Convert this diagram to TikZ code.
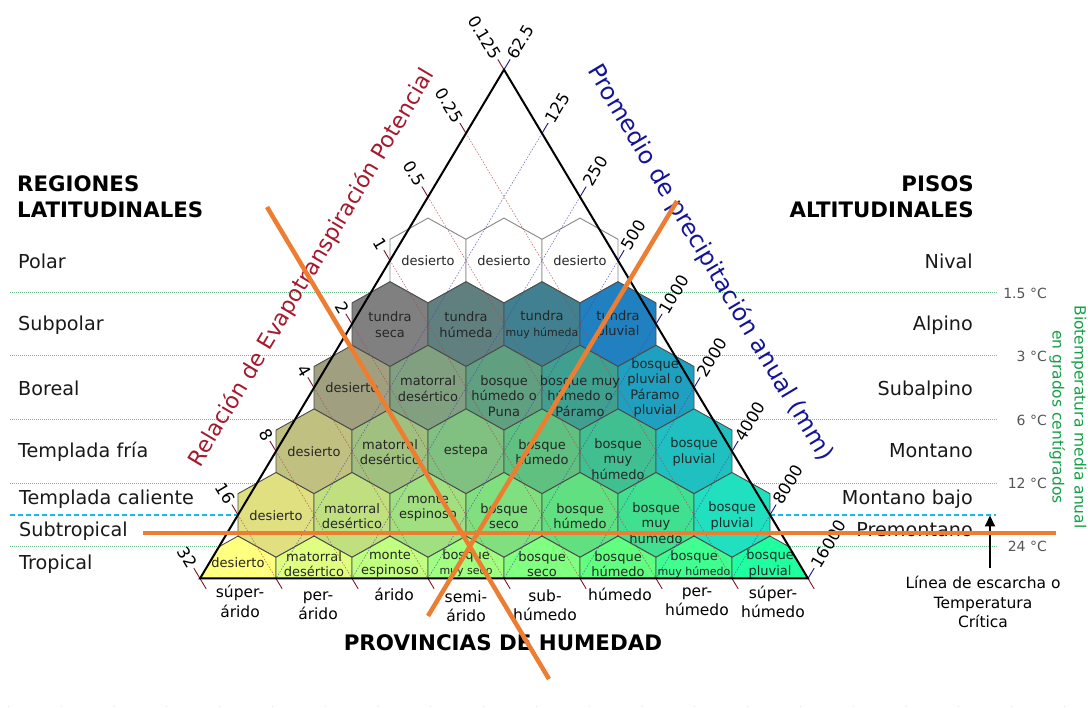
\documentclass[tikz,border=0pt]{standalone}
\usepackage{fontspec}
\setmainfont{DejaVu Sans}
\usetikzlibrary{arrows.meta}
\definecolor{hexline}{RGB}{75,75,75}
\definecolor{toprowline}{RGB}{135,135,135}
\definecolor{petred}{RGB}{165,25,45}
\definecolor{precblue}{RGB}{20,20,150}
\definecolor{tempgreen}{RGB}{20,160,70}
\definecolor{gridgreen}{RGB}{110,190,140}
\definecolor{frostcyan}{RGB}{20,185,240}
\definecolor{orangecut}{RGB}{237,125,49}
\definecolor{templab}{RGB}{85,85,85}
\definecolor{redthin}{RGB}{170,70,70}
\definecolor{bluethin}{RGB}{70,70,170}
% hex fills
\definecolor{cA}{RGB}{128,128,128}\definecolor{cB}{RGB}{96,128,128}\definecolor{cC}{RGB}{64,128,144}\definecolor{cD}{RGB}{32,128,192}
\definecolor{dA}{RGB}{160,160,128}\definecolor{dB}{RGB}{128,160,128}\definecolor{dC}{RGB}{96,160,128}\definecolor{dD}{RGB}{64,160,144}\definecolor{dE}{RGB}{32,160,192}
\definecolor{eA}{RGB}{192,192,128}\definecolor{eB}{RGB}{160,192,128}\definecolor{eC}{RGB}{128,192,128}\definecolor{eD}{RGB}{96,192,128}\definecolor{eE}{RGB}{64,192,144}\definecolor{eF}{RGB}{32,192,192}
\definecolor{fA}{RGB}{224,224,128}\definecolor{fB}{RGB}{192,224,128}\definecolor{fC}{RGB}{160,224,128}\definecolor{fD}{RGB}{128,224,128}\definecolor{fE}{RGB}{96,224,128}\definecolor{fF}{RGB}{64,224,144}\definecolor{fG}{RGB}{32,224,192}
\definecolor{gA}{RGB}{255,255,128}\definecolor{gB}{RGB}{224,255,128}\definecolor{gC}{RGB}{192,255,128}\definecolor{gD}{RGB}{160,255,128}\definecolor{gE}{RGB}{128,255,128}\definecolor{gF}{RGB}{96,255,128}\definecolor{gG}{RGB}{64,255,144}\definecolor{gH}{RGB}{32,255,160}
\newcommand\fsz[2]{\fontsize{#1}{#2}\selectfont}
\newcommand\hexcell[4][hexcell]{\filldraw[#1,fill=#4] (#2,#3) ++(0,-42.4) -- ++(38,21.2) -- ++(0,42.4) -- ++(-38,21.2) -- ++(-38,-21.2) -- ++(0,-42.4) -- cycle;}
\tikzset{
  hexcell/.style={draw=hexline,line width=0.9pt},
  toprow/.style={draw=toprowline,line width=0.9pt},
  hextext/.style={font=\fsz{13}{15.5}, text=black!85, align=center, inner sep=0pt},
  ticklab/.style={font=\fsz{16.5}{19}, inner sep=1pt},
  sidelab/.style={font=\fsz{19.2}{23}, inner sep=0pt, text=black!90},
  headlab/.style={font=\bfseries\fsz{21.3}{26}, inner sep=0pt, text=black},
  templabel/.style={font=\fsz{14}{17}, inner sep=0pt, text=templab, anchor=base east},
  bottomlab/.style={font=\fsz{15.5}{19.5}, inner sep=0pt, align=center, text=black},
  gridline/.style={draw=gridgreen, line width=0.9pt, dash pattern=on 1pt off 1pt},
  frostline/.style={draw=frostcyan, line width=1.6pt, dash pattern=on 5pt off 3pt},
  petline/.style={draw=redthin, line width=0.6pt, dash pattern=on 1.5pt off 1.5pt, opacity=0.75},
  precline/.style={draw=bluethin, line width=0.6pt, dash pattern=on 1.5pt off 1.5pt, opacity=0.75},
  pettick/.style={draw=petred!80!black, line width=0.9pt},
  prectick/.style={draw=precblue, line width=0.9pt},
  orangecutline/.style={draw=orangecut, line width=4.5pt},
}
\begin{document}
\begin{tikzpicture}[x=1pt,y=-1pt]
\useasboundingbox (0,0) rectangle (1088,708);
\fill[white] (0,0) rectangle (1088,708);
\coordinate (apex) at (504,69.7);
\coordinate (bl) at (200,578.5);
\coordinate (br) at (808,578.5);
% horizontal temperature lines
\foreach \yy in {292.3,355.9,419.5,483.1,546.7} \draw[gridline] (10,\yy) -- (997,\yy);
\draw[frostline] (10,515.3) -- (996,515.3);
\draw[gray!25, line width=0.8pt, dash pattern=on 1pt off 51.8pt] (8,706.5) -- (1088,706.5);
% hexagons
\hexcell[toprow]{428}{260.5}{white}\hexcell[toprow]{504}{260.5}{white}\hexcell[toprow]{580}{260.5}{white}
\hexcell{390}{324.1}{cA}\hexcell{466}{324.1}{cB}\hexcell{542}{324.1}{cC}\hexcell{618}{324.1}{cD}
\hexcell{352}{387.7}{dA}\hexcell{428}{387.7}{dB}\hexcell{504}{387.7}{dC}\hexcell{580}{387.7}{dD}\hexcell{656}{387.7}{dE}
\hexcell{314}{451.3}{eA}\hexcell{390}{451.3}{eB}\hexcell{466}{451.3}{eC}\hexcell{542}{451.3}{eD}\hexcell{618}{451.3}{eE}\hexcell{694}{451.3}{eF}
\hexcell{276}{514.9}{fA}\hexcell{352}{514.9}{fB}\hexcell{428}{514.9}{fC}\hexcell{504}{514.9}{fD}\hexcell{580}{514.9}{fE}\hexcell{656}{514.9}{fF}\hexcell{732}{514.9}{fG}
\begin{scope}
\clip (apex) -- (bl) -- (br) -- cycle;
\hexcell{238}{578.5}{gA}\hexcell{314}{578.5}{gB}\hexcell{390}{578.5}{gC}\hexcell{466}{578.5}{gD}\hexcell{542}{578.5}{gE}\hexcell{618}{578.5}{gF}\hexcell{694}{578.5}{gG}\hexcell{770}{578.5}{gH}
\end{scope}
% PET ratio lines (red) and precipitation lines (blue)
\foreach \j/\lab in {0/0.125,1/0.25,2/0.5,3/1,4/2,5/4,6/8,7/16,8/32}{
  \pgfmathsetmacro\lx{504-38*\j}
  \pgfmathsetmacro\ly{69.7+63.6*\j}
  \pgfmathsetmacro\bx{808-76*\j}
  \draw[petline] (\lx,\ly) -- (\bx,578.5);
  \draw[pettick] (\lx,\ly) -- ++(-6.15,-10.3);
  \draw[pettick] (\bx,578.5) -- ++(6.15,10.3);
  \node[ticklab,rotate=-59.2,anchor=east] (pet\j) at (\lx-6.6,\ly-11.1) {\lab};
}
\foreach \j/\lab in {0/62.5,1/125,2/250,3/500,4/1000,5/2000,6/4000,7/8000,8/16000}{
  \pgfmathsetmacro\rx{504+38*\j}
  \pgfmathsetmacro\ry{69.7+63.6*\j}
  \pgfmathsetmacro\bx{200+76*\j}
  \draw[precline] (\rx,\ry) -- (\bx,578.5);
  \draw[prectick] (\rx,\ry) -- ++(6.15,-10.3);
  \node[ticklab,rotate=59.2,anchor=west] (pre\j) at (\rx+6.6,\ry-11.1) {\lab};
}
% hex texts
\node[hextext] (t11) at (428,261) {desierto};
\node[hextext] (t12) at (504,261) {desierto};
\node[hextext] (t13) at (580,261) {desierto};
\node[hextext] (t21) at (390,324.5) {tundra\\seca};
\node[hextext] (t22) at (466,324.5) {tundra\\húmeda};
\node[hextext] (t23) at (542,324.5) {tundra\\{\fsz{11}{15.5}muy húmeda}};
\node[hextext] (t24) at (618,324.5) {tundra\\pluvial};
\node[hextext] (t31) at (352,388) {desierto};
\node[hextext] (t32) at (428,388.5) {matorral\\desértico};
\node[hextext] (t33) at (504,396) {bosque\\húmedo o\\Puna};
\node[hextext] (t34) at (580,396) {bosque muy\\húmedo o\\Páramo};
\node[hextext] (t35) at (655,388) {bosque\\pluvial o\\Páramo\\pluvial};
\node[hextext] (t41) at (314,452) {desierto};
\node[hextext] (t42) at (390,452) {matorral\\desértico};
\node[hextext] (t43) at (466,451) {estepa};
\node[hextext] (t44) at (542,452) {bosque\\húmedo};
\node[hextext] (t45) at (618,459) {bosque\\muy\\húmedo};
\node[hextext] (t46) at (694,452) {bosque\\pluvial};
\node[hextext] (t51) at (276,516) {desierto};
\node[hextext] (t52) at (352,516) {matorral\\desértico};
\node[hextext] (t53) at (428,508) {monte\\espinoso};
\node[hextext] (t54) at (504,516) {bosque\\seco};
\node[hextext] (t55) at (580,516) {bosque\\húmedo};
\node[hextext] (t56) at (656,523) {bosque\\muy\\húmedo};
\node[hextext] (t57) at (732,516) {bosque\\pluvial};
\node[hextext] (t61) at (238,563) {desierto};
\node[hextext] (t62) at (314,564) {matorral\\desértico};
\node[hextext] (t63) at (390,564) {monte\\espinoso};
\node[hextext] (t64) at (466,563) {bosque\\{\fsz{11}{14}muy seco}};
\node[hextext] (t65) at (542,564) {bosque\\seco};
\node[hextext] (t66) at (618,564) {bosque\\húmedo};
\node[hextext] (t67) at (694,564) {bosque\\{\fsz{11}{14}muy húmedo}};
\node[hextext] (t68) at (770,564) {bosque\\pluvial};
% triangle
\draw[black, line width=2pt, line join=miter] (apex) -- (bl) -- (br) -- cycle;
% axis titles
\node[font=\fsz{22.2}{26}, text=petred, rotate=59.2, inner sep=0pt] (pettitle) at (312,268) {Relación de Evapotranspiración Potencial};
\node[font=\fsz{23.8}{26}, text=precblue, rotate=-59.2, inner sep=0pt] (prectitle) at (710,263) {Promedio de precipitación anual (mm)};
% headers
\node[headlab, anchor=base west, align=left] (reghead) at (17,217.5) {REGIONES\\LATITUDINALES};
\node[headlab, anchor=base east, align=right] (pisohead) at (974,217.5) {PISOS\\ALTITUDINALES};
% left labels
\node[sidelab, anchor=base west] (lpolar) at (18,269) {Polar};
\node[sidelab, anchor=base west] (lsubpolar) at (18,331) {Subpolar};
\node[sidelab, anchor=base west] (lboreal) at (18,395.5) {Boreal};
\node[sidelab, anchor=base west] (ltfria) at (18,458) {Templada fría};
\node[sidelab, anchor=base west] (ltcal) at (19,505) {Templada caliente};
\node[sidelab, anchor=base west] (lsubtrop) at (19,537) {Subtropical};
\node[sidelab, anchor=base west] (ltrop) at (19,569.5) {Tropical};
% right labels
\node[sidelab, anchor=base east] (rnival) at (973,269) {Nival};
\node[sidelab, anchor=base east] (ralpino) at (973,331) {Alpino};
\node[sidelab, anchor=base east] (rsubalp) at (973,395.5) {Subalpino};
\node[sidelab, anchor=base east] (rmont) at (973,458) {Montano};
\node[sidelab, anchor=base east] (rmontb) at (973,505) {Montano bajo};
\node[sidelab, anchor=base east] (rpremont) at (973,537) {Premontano};
% temperature labels
\node[templabel] (temp1) at (1047,298.3) {1.5 °C};
\node[templabel] (temp2) at (1047,362) {3 °C};
\node[templabel] (temp3) at (1047,425.7) {6 °C};
\node[templabel] (temp4) at (1047,489) {12 °C};
\node[templabel] (temp5) at (1047,552) {24 °C};
\node[font=\fsz{15.5}{22}, text=tempgreen, rotate=-90, align=center, inner sep=0pt] (biotemp) at (1068,417) {Biotemperatura media anual\\en grados centígrados};
% bottom labels
\node[bottomlab] (b1) at (240,601.5) {súper-\\árido};
\node[bottomlab] (b2) at (318,606) {per-\\árido};
\node[bottomlab] (b3) at (394,594) {árido};
\node[bottomlab] (b4) at (466,606) {semi-\\árido};
\node[bottomlab] (b5) at (545,605) {sub-\\húmedo};
\node[bottomlab] (b6) at (620,594) {húmedo};
\node[bottomlab] (b7) at (697,602) {per-\\húmedo};
\node[bottomlab] (b8) at (773,602) {súper-\\húmedo};
\node[font=\bfseries\fsz{21.4}{24}, inner sep=0pt] (provtitle) at (503,643) {PROVINCIAS DE HUMEDAD};
% frost line note
\coordinate (frostbot) at (990,568);
\coordinate (frosttop) at (990,515.5);
\draw[black, line width=1.8pt, -{Triangle[length=11pt,width=10pt]}] (frostbot) -- (frosttop);
\node[font=\fsz{15.5}{19.5}, align=center, inner sep=0pt] (frostnote) at (983,602) {Línea de escarcha o\\Temperatura\\Crítica};
% orange lines
\coordinate (o1a) at (267,207); \coordinate (o1b) at (549,679);
\coordinate (o2a) at (428,616); \coordinate (o2b) at (677,201);
\coordinate (o3a) at (143,533); \coordinate (o3b) at (1056,533);
\draw[orangecutline] (o1a) -- (o1b);
\draw[orangecutline] (o2a) -- (o2b);
\draw[orangecutline] (o3a) -- (o3b);
\end{tikzpicture}
\end{document}
